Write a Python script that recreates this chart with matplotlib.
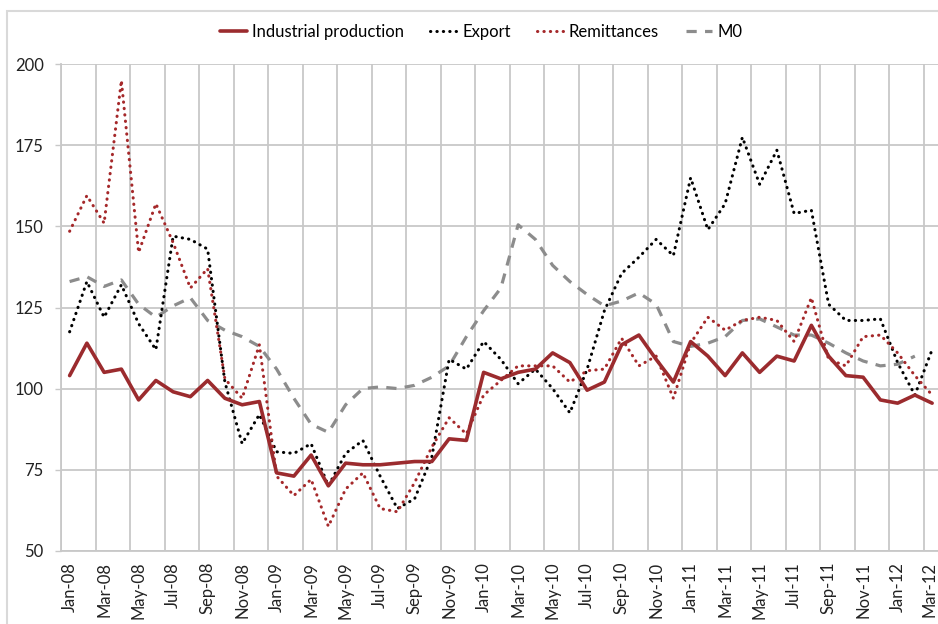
import numpy as np
import matplotlib.pyplot as plt
import matplotlib.transforms as mtransforms
from matplotlib.patches import Rectangle

plt.rcParams['font.family'] = ['Lato', 'DejaVu Sans']

months = ['Jan-08', 'Feb-08', 'Mar-08', 'Apr-08', 'May-08', 'Jun-08', 'Jul-08', 'Aug-08',
          'Sep-08', 'Oct-08', 'Nov-08', 'Dec-08', 'Jan-09', 'Feb-09', 'Mar-09', 'Apr-09',
          'May-09', 'Jun-09', 'Jul-09', 'Aug-09', 'Sep-09', 'Oct-09', 'Nov-09', 'Dec-09',
          'Jan-10', 'Feb-10', 'Mar-10', 'Apr-10', 'May-10', 'Jun-10', 'Jul-10', 'Aug-10',
          'Sep-10', 'Oct-10', 'Nov-10', 'Dec-10', 'Jan-11', 'Feb-11', 'Mar-11', 'Apr-11',
          'May-11', 'Jun-11', 'Jul-11', 'Aug-11', 'Sep-11', 'Oct-11', 'Nov-11', 'Dec-11',
          'Jan-12', 'Feb-12', 'Mar-12']

industrial = [104, 114, 105, 106, 96.5, 102.5, 99, 97.5, 102.5, 97, 95, 96,
              74, 73, 79.5, 70, 77, 76.5, 76.5, 77, 77.5, 77.5, 84.5, 84,
              105, 103, 105, 106, 111, 108, 99.5, 102, 113.5, 116.5, 109, 102,
              114.5, 110, 104, 111, 105, 110, 108.5, 119.5, 110, 104, 103.5, 96.5,
              95.5, 98, 95.5]

export = [117.5, 133, 122, 132, 120, 112, 147, 146, 143, 102, 83, 92,
          80.5, 80, 83, 70, 80, 84, 73, 63, 66, 79, 109, 106,
          114.5, 109, 101.5, 106, 100, 92.5, 106, 124, 135.5, 140.5, 146, 141,
          165, 149, 157, 177.5, 163, 173.5, 154, 155, 126, 121, 121, 121.5,
          108, 98, 112]

remittances = [148.5, 159.5, 151, 195, 142, 157, 145, 131, 137, 103, 97, 113.5,
               73, 67, 72, 57.5, 69, 74, 63, 62, 71, 82, 91, 86,
               98, 102.5, 107, 107, 107, 102, 105.5, 106, 115.5, 107, 110, 97,
               114, 122, 118, 121, 122, 121, 114.5, 128, 109, 107, 116, 116.5,
               111, 104, 98]

m0 = [133, 134.5, 131.5, 133.5, 126, 122, 125.5, 128, 121, 118, 116, 113,
      106, 97, 89, 86.5, 95, 100, 100.5, 100, 101, 103.5, 107, 116,
      124, 131, 150.5, 146, 138, 133, 129, 125.5, 127, 129.5, 126, 114.5,
      113, 114, 116, 121, 121.5, 119, 116.5, 116.5, 114, 111, 108.5, 107,
      107.5, 110, np.nan]

x = np.arange(len(months))

fig = plt.figure(figsize=(9.38, 6.24), dpi=100)
ax = fig.add_axes([61 / 938, 1 - 550.7 / 624, 1 - 61 / 938, (550.7 - 64.3) / 624])

grid_c = '#c8c8c8'
ax.plot(x, industrial, color='#9b2b2e', lw=2.6, solid_capstyle='round',
        solid_joinstyle='round', label='Industrial production', zorder=5)
ax.plot(x, export, color='black', lw=2.2, linestyle=(0, (0.1, 2.0)),
        dash_capstyle='round', label='Export', zorder=4)
ax.plot(x, remittances, color='#a5282a', lw=2.2, linestyle=(0, (0.1, 2.0)),
        dash_capstyle='round', label='Remittances', zorder=4)
ax.plot(x, m0, color='#8c8c8c', lw=2.3, linestyle=(0, (3.2, 2.6)),
        label='M0', zorder=3)

ax.set_xlim(-0.5, -0.5 + (938 - 61) / 17.25)
ax.set_ylim(50, 200)

# gridlines at category boundaries every two months
ax.set_xticks(np.arange(-0.5, 51, 2), minor=True)
ax.xaxis.grid(True, which='minor', color=grid_c, lw=1.3)
ax.set_xticks(x[::2])
ax.set_xticklabels(months[::2], rotation=90, fontsize=12, color='#222222')
ax.tick_params(axis='x', which='both', length=0, pad=8)
# last label sits right at the cropped edge, nudge it in a little
last = ax.get_xticklabels()[-1]
last.set_transform(last.get_transform() +
                   mtransforms.ScaledTranslation(-3 / 100, 0, fig.dpi_scale_trans))

ax.set_yticks(np.arange(50, 201, 25))
ax.yaxis.grid(True, color=grid_c, lw=1.3)
ax.tick_params(axis='y', length=4.5, width=1.0, color=grid_c, pad=8,
               labelsize=12, labelcolor='#222222')
ax.set_axisbelow(True)

for s in ['top', 'right']:
    ax.spines[s].set_visible(False)
for s in ['left', 'bottom']:
    ax.spines[s].set_color(grid_c)
    ax.spines[s].set_linewidth(1.3)

fig.legend(loc='center', bbox_to_anchor=(0.513, 0.949), ncol=4, frameon=False,
           fontsize=12, handlelength=1.6, handletextpad=0.3, columnspacing=1.6)

# chart border
fig.patches.append(Rectangle((7 / 938, -0.1), 1.2, 1.1 - 11 / 624,
                             transform=fig.transFigure, fill=False,
                             edgecolor='#d9d9d9', lw=1.5))

fig.savefig('out.png', dpi=100)
